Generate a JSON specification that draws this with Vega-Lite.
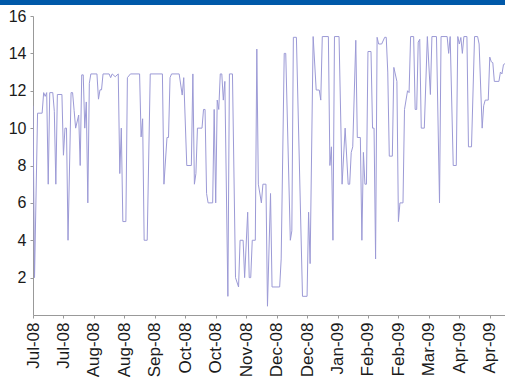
{
  "$schema": "https://vega.github.io/schema/vega-lite/v6.json",
  "autosize": {"type": "none"},
  "padding": {"left": 33, "top": 16, "right": 0, "bottom": 62},
  "width": 472,
  "height": 299,
  "background": "white",
  "config": {"view": {"stroke": null}, "font": "Liberation Sans", "axis": {"labelOverlap": false}},
  "data": {"values": [
    {"date": "2008-07-01", "v": 11.2}, {"date": "2008-07-02", "v": 2.0}, {"date": "2008-07-04", "v": 10.8}, {"date": "2008-07-07", "v": 10.8},
    {"date": "2008-07-08", "v": 11.9}, {"date": "2008-07-09", "v": 11.7}, {"date": "2008-07-10", "v": 11.9}, {"date": "2008-07-11", "v": 7.0},
    {"date": "2008-07-12", "v": 11.9}, {"date": "2008-07-14", "v": 11.9}, {"date": "2008-07-15", "v": 10.9}, {"date": "2008-07-16", "v": 7.0},
    {"date": "2008-07-17", "v": 11.8}, {"date": "2008-07-20", "v": 11.8}, {"date": "2008-07-21", "v": 8.55}, {"date": "2008-07-22", "v": 10.0},
    {"date": "2008-07-23", "v": 10.0}, {"date": "2008-07-24", "v": 4.0}, {"date": "2008-07-26", "v": 11.9}, {"date": "2008-07-27", "v": 11.9},
    {"date": "2008-07-28", "v": 10.95}, {"date": "2008-07-29", "v": 10.0}, {"date": "2008-07-31", "v": 10.7}, {"date": "2008-08-01", "v": 8.0},
    {"date": "2008-08-02", "v": 12.85}, {"date": "2008-08-03", "v": 12.85}, {"date": "2008-08-04", "v": 10.0}, {"date": "2008-08-05", "v": 11.4},
    {"date": "2008-08-06", "v": 6.0}, {"date": "2008-08-07", "v": 12.4}, {"date": "2008-08-08", "v": 12.9}, {"date": "2008-08-12", "v": 12.9},
    {"date": "2008-08-13", "v": 11.55}, {"date": "2008-08-14", "v": 12.05}, {"date": "2008-08-15", "v": 12.05}, {"date": "2008-08-16", "v": 12.9},
    {"date": "2008-08-20", "v": 12.9}, {"date": "2008-08-21", "v": 12.7}, {"date": "2008-08-22", "v": 12.9}, {"date": "2008-08-24", "v": 12.75},
    {"date": "2008-08-26", "v": 12.9}, {"date": "2008-08-27", "v": 7.57}, {"date": "2008-08-28", "v": 10.0}, {"date": "2008-08-29", "v": 5.0},
    {"date": "2008-08-31", "v": 5.0}, {"date": "2008-09-01", "v": 12.7}, {"date": "2008-09-03", "v": 12.9}, {"date": "2008-09-09", "v": 12.9},
    {"date": "2008-09-10", "v": 9.53}, {"date": "2008-09-11", "v": 10.5}, {"date": "2008-09-12", "v": 4.0}, {"date": "2008-09-14", "v": 4.0},
    {"date": "2008-09-16", "v": 12.9}, {"date": "2008-09-24", "v": 12.9}, {"date": "2008-09-25", "v": 7.0}, {"date": "2008-09-27", "v": 9.5},
    {"date": "2008-09-28", "v": 9.5}, {"date": "2008-09-29", "v": 12.7}, {"date": "2008-09-30", "v": 12.9}, {"date": "2008-10-05", "v": 12.9},
    {"date": "2008-10-07", "v": 11.77}, {"date": "2008-10-08", "v": 12.7}, {"date": "2008-10-10", "v": 8.0}, {"date": "2008-10-13", "v": 8.0},
    {"date": "2008-10-14", "v": 12.9}, {"date": "2008-10-15", "v": 7.0}, {"date": "2008-10-16", "v": 7.57}, {"date": "2008-10-17", "v": 10.0},
    {"date": "2008-10-20", "v": 10.0}, {"date": "2008-10-21", "v": 11.0}, {"date": "2008-10-22", "v": 11.0}, {"date": "2008-10-23", "v": 6.5},
    {"date": "2008-10-24", "v": 6.0}, {"date": "2008-10-27", "v": 6.0}, {"date": "2008-10-28", "v": 11.0}, {"date": "2008-10-29", "v": 6.0},
    {"date": "2008-10-30", "v": 11.5}, {"date": "2008-10-31", "v": 11.0}, {"date": "2008-11-01", "v": 12.9}, {"date": "2008-11-02", "v": 12.9},
    {"date": "2008-11-03", "v": 11.5}, {"date": "2008-11-04", "v": 12.5}, {"date": "2008-11-06", "v": 1.0}, {"date": "2008-11-07", "v": 12.9},
    {"date": "2008-11-09", "v": 12.9}, {"date": "2008-11-11", "v": 2.0}, {"date": "2008-11-13", "v": 1.5}, {"date": "2008-11-14", "v": 4.0},
    {"date": "2008-11-16", "v": 4.0}, {"date": "2008-11-17", "v": 2.0}, {"date": "2008-11-19", "v": 5.5}, {"date": "2008-11-20", "v": 2.0},
    {"date": "2008-11-21", "v": 2.0}, {"date": "2008-11-22", "v": 4.0}, {"date": "2008-11-24", "v": 4.0}, {"date": "2008-11-25", "v": 14.23},
    {"date": "2008-11-26", "v": 7.0}, {"date": "2008-11-28", "v": 6.0}, {"date": "2008-11-29", "v": 7.0}, {"date": "2008-12-01", "v": 7.0},
    {"date": "2008-12-02", "v": 0.47}, {"date": "2008-12-04", "v": 6.5}, {"date": "2008-12-05", "v": 1.5}, {"date": "2008-12-10", "v": 1.5},
    {"date": "2008-12-11", "v": 3.0}, {"date": "2008-12-13", "v": 14.0}, {"date": "2008-12-14", "v": 14.0}, {"date": "2008-12-17", "v": 4.0},
    {"date": "2008-12-18", "v": 4.5}, {"date": "2008-12-19", "v": 14.86}, {"date": "2008-12-21", "v": 14.86}, {"date": "2008-12-25", "v": 1.0},
    {"date": "2008-12-28", "v": 1.0}, {"date": "2008-12-29", "v": 5.5}, {"date": "2008-12-30", "v": 2.75}, {"date": "2009-01-01", "v": 14.9},
    {"date": "2009-01-03", "v": 12.04}, {"date": "2009-01-05", "v": 12.04}, {"date": "2009-01-06", "v": 11.5}, {"date": "2009-01-07", "v": 14.9},
    {"date": "2009-01-11", "v": 14.9}, {"date": "2009-01-12", "v": 8.0}, {"date": "2009-01-13", "v": 9.0}, {"date": "2009-01-14", "v": 4.0},
    {"date": "2009-01-15", "v": 14.9}, {"date": "2009-01-18", "v": 14.9}, {"date": "2009-01-20", "v": 7.0}, {"date": "2009-01-22", "v": 10.0},
    {"date": "2009-01-24", "v": 7.0}, {"date": "2009-01-25", "v": 7.0}, {"date": "2009-01-26", "v": 8.7}, {"date": "2009-01-27", "v": 9.0},
    {"date": "2009-01-29", "v": 14.7}, {"date": "2009-01-30", "v": 9.5}, {"date": "2009-02-01", "v": 9.5}, {"date": "2009-02-02", "v": 4.0},
    {"date": "2009-02-03", "v": 8.7}, {"date": "2009-02-04", "v": 7.0}, {"date": "2009-02-05", "v": 7.0}, {"date": "2009-02-06", "v": 14.1},
    {"date": "2009-02-08", "v": 14.1}, {"date": "2009-02-09", "v": 10.0}, {"date": "2009-02-10", "v": 10.0}, {"date": "2009-02-11", "v": 3.0},
    {"date": "2009-02-12", "v": 14.86}, {"date": "2009-02-13", "v": 14.5}, {"date": "2009-02-15", "v": 14.5}, {"date": "2009-02-17", "v": 14.86},
    {"date": "2009-02-18", "v": 14.86}, {"date": "2009-02-19", "v": 13.0}, {"date": "2009-02-20", "v": 8.5}, {"date": "2009-02-22", "v": 8.5},
    {"date": "2009-02-23", "v": 13.25}, {"date": "2009-02-25", "v": 12.5}, {"date": "2009-02-26", "v": 5.0}, {"date": "2009-02-27", "v": 6.0},
    {"date": "2009-03-01", "v": 6.0}, {"date": "2009-03-02", "v": 11.0}, {"date": "2009-03-04", "v": 12.0}, {"date": "2009-03-05", "v": 11.9},
    {"date": "2009-03-06", "v": 14.9}, {"date": "2009-03-08", "v": 14.9}, {"date": "2009-03-09", "v": 11.0}, {"date": "2009-03-10", "v": 11.0},
    {"date": "2009-03-11", "v": 14.6}, {"date": "2009-03-12", "v": 14.75}, {"date": "2009-03-13", "v": 10.0}, {"date": "2009-03-15", "v": 10.0},
    {"date": "2009-03-17", "v": 14.9}, {"date": "2009-03-19", "v": 11.8}, {"date": "2009-03-20", "v": 14.9}, {"date": "2009-03-23", "v": 14.9},
    {"date": "2009-03-25", "v": 6.0}, {"date": "2009-03-26", "v": 14.9}, {"date": "2009-03-30", "v": 14.9}, {"date": "2009-03-31", "v": 14.0},
    {"date": "2009-04-01", "v": 14.9}, {"date": "2009-04-03", "v": 8.0}, {"date": "2009-04-05", "v": 8.0}, {"date": "2009-04-06", "v": 14.9},
    {"date": "2009-04-07", "v": 14.5}, {"date": "2009-04-08", "v": 14.85}, {"date": "2009-04-09", "v": 14.0}, {"date": "2009-04-10", "v": 14.9},
    {"date": "2009-04-12", "v": 14.9}, {"date": "2009-04-13", "v": 9.0}, {"date": "2009-04-15", "v": 9.0}, {"date": "2009-04-17", "v": 14.9},
    {"date": "2009-04-19", "v": 14.9}, {"date": "2009-04-20", "v": 14.5}, {"date": "2009-04-22", "v": 10.0}, {"date": "2009-04-23", "v": 11.2},
    {"date": "2009-04-24", "v": 11.5}, {"date": "2009-04-26", "v": 11.5}, {"date": "2009-04-27", "v": 13.8}, {"date": "2009-04-28", "v": 13.55},
    {"date": "2009-04-29", "v": 13.5}, {"date": "2009-04-30", "v": 12.5}, {"date": "2009-05-03", "v": 12.5}, {"date": "2009-05-04", "v": 13.0},
    {"date": "2009-05-05", "v": 12.9}, {"date": "2009-05-06", "v": 13.4}, {"date": "2009-05-08", "v": 13.5}
  ]},
  "layer": [
    {
      "mark": {"type": "line", "color": "#9c9ad6", "strokeWidth": 1, "clip": true},
      "encoding": {
        "x": {
          "field": "date", "type": "temporal",
          "scale": {"type": "utc", "domain": [{"year": 2008, "month": 7, "date": 1, "utc": true}, {"year": 2009, "month": 5, "date": 7, "utc": true}], "nice": false},
          "axis": {
            "title": null, "grid": false, "tickCount": 40,
            "values": [1214870400000, 1216598400000, 1218326400000, 1220054400000, 1221782400000, 1223510400000, 1225238400000, 1226966400000,
                       1228694400000, 1230422400000, 1232150400000, 1233878400000, 1235606400000, 1237334400000, 1239062400000, 1240790400000],
            "labelExpr": "utcFormat(datum.value, '%b-%y')",
            "labelAngle": 270, "labelAlign": "right", "labelBaseline": "middle",
            "labelFontSize": 17, "labelColor": "#1a1a1a", "labelPadding": 4,
            "labelOverlap": false, "labelFlush": false, "labelBound": false,
            "domainColor": "#999999", "tickColor": "#999999", "tickSize": 3
          }
        },
        "y": {
          "field": "v", "type": "quantitative",
          "scale": {"domain": [0, 16], "nice": false, "zero": true},
          "axis": {
            "title": null, "grid": false, "tickCount": 20,
            "values": [2, 4, 6, 8, 10, 12, 14, 16],
            "labelFontSize": 16, "labelColor": "#1a1a1a", "labelPadding": 4,
            "domainColor": "#999999", "tickColor": "#999999", "tickSize": 3
          }
        }
      }
    },
    {
      "mark": {"type": "rect", "color": "#0059a9"},
      "encoding": {
        "x": {"datum": {"year": 2008, "month": 5, "date": 1, "utc": true}, "type": "temporal"},
        "x2": {"datum": {"year": 2009, "month": 7, "date": 1, "utc": true}},
        "y": {"datum": 16.6, "type": "quantitative"},
        "y2": {"datum": 17.5}
      }
    }
  ]
}
